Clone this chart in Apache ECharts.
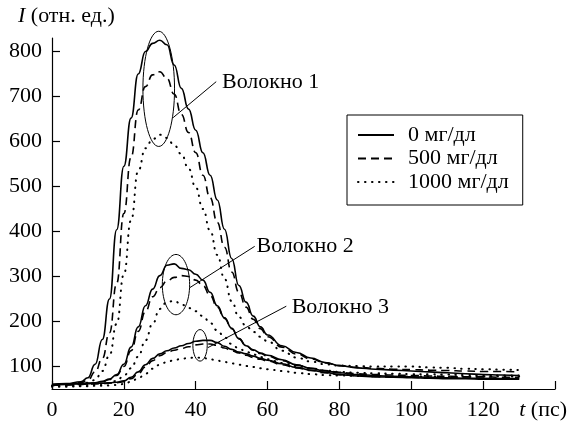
<!DOCTYPE html>
<html>
<head>
<meta charset="utf-8">
<script src="https://cdn.jsdelivr.net/npm/echarts@6/dist/echarts.min.js"></script>
<style>
  html, body { margin: 0; background: #fff; }
  #chart { width: 570px; height: 423px; }
</style>
</head>
<body>
<div id="chart"></div>
<script>
// time, ps
const times = [0, 4, 8, 10, 12, 14, 16, 18, 20, 22, 24, 26, 28, 30, 32, 34, 36, 38, 40, 42,
  44, 46, 48, 50, 52, 54, 56, 58, 60, 64, 68, 72, 76, 80, 85, 90, 95, 100, 105, 110, 115, 120, 125, 130];

// fibre 1
const fib1_0 = [60, 62, 66, 75, 105, 160, 250, 404, 545, 652, 750, 800, 818, 825, 815, 770, 718, 672, 625, 575,
  525, 470, 405, 340, 280, 243, 212, 188, 170, 146, 131, 119, 109, 102, 97, 94, 92, 90, 88, 86, 84, 82, 81, 80];
const fib1_500 = [60, 61, 64, 70, 88, 118, 175, 285, 440, 565, 670, 722, 748, 755, 740, 705, 660, 620, 575, 525,
  475, 420, 365, 310, 265, 232, 205, 184, 166, 143, 128, 117, 108, 102, 98, 96, 94, 93, 92, 91, 90, 89, 89, 88];
const fib1_1000 = [58, 60, 62, 64, 70, 90, 125, 195, 305, 425, 535, 585, 605, 615, 608, 592, 572, 540, 498, 450,
  402, 348, 295, 245, 210, 190, 177, 166, 156, 135, 120, 111, 105, 102, 101, 100, 100, 100, 98, 97, 95, 94, 93, 92];

// fibre 2
const fib2_0 = [58, 60, 62, 63, 64, 67, 72, 82, 105, 143, 188, 235, 272, 302, 325, 328, 318, 315, 305, 292,
  265, 235, 208, 185, 162, 146, 137, 130, 125, 115, 104, 96, 90, 86, 82, 80, 78, 77, 76, 75, 74, 74, 73, 73];
const fib2_500 = [58, 59, 61, 62, 63, 66, 71, 80, 100, 135, 178, 222, 255, 275, 290, 298, 302, 300, 292, 280,
  258, 232, 207, 184, 162, 146, 136, 129, 123, 113, 103, 96, 91, 87, 84, 82, 81, 80, 79, 78, 77, 77, 76, 76];
const fib2_1000 = [56, 57, 58, 59, 60, 61, 63, 68, 80, 96, 122, 158, 195, 228, 243, 246, 238, 230, 223, 212,
  197, 180, 165, 150, 140, 133, 127, 121, 116, 108, 101, 96, 91, 88, 86, 85, 84, 83, 83, 82, 81, 81, 80, 80];

// fibre 3
const fib3_0 = [60, 61, 62, 62, 63, 63, 64, 65, 68, 76, 88, 104, 118, 128, 135, 141, 146, 151, 156, 158,
  158, 153, 145, 138, 132, 128, 123, 118, 114, 106, 98, 92, 87, 82, 79, 77, 76, 75, 74, 73, 73, 72, 72, 72];
const fib3_500 = [58, 59, 60, 61, 61, 62, 63, 64, 66, 73, 84, 99, 113, 124, 131, 136, 140, 144, 148, 150,
  150, 147, 141, 135, 130, 125, 120, 116, 112, 104, 97, 91, 86, 82, 80, 78, 77, 76, 75, 75, 74, 74, 73, 73];
const fib3_1000 = [55, 55, 56, 56, 57, 57, 58, 59, 61, 66, 74, 84, 95, 104, 110, 114, 117, 119, 120, 119,
  116, 113, 110, 107, 104, 101, 99, 96, 94, 90, 86, 83, 81, 80, 79, 78, 78, 78, 78, 78, 78, 78, 78, 78];

const legendNames = ['0 мг/дл', '500 мг/дл', '1000 мг/дл'];
const yTicks = [100, 200, 300, 400, 500, 600, 700, 800];

// annotations, in data units (t, I)
const fibreNames = ['Волокно 1', 'Волокно 2', 'Волокно 3'];
const ellipseCenter = [[29.7, 717], [34.5, 282], [41.2, 147]];
const ellipseRadius = [[4.4, 128], [3.8, 67], [2.0, 35]];
const pointerFrom = [[33.7, 653], [38.3, 275], [43.4, 142]];
const pointerTo = [[45.7, 733], [56.4, 367], [65.2, 234]];
const labelAt = [[47.3, 731], [56.9, 367], [66.7, 231]];

const FONT = 'Liberation Serif';
const FS = 22;

const dashStyles = [
  { type: 'solid', width: 1.6 },
  { type: [8, 5], width: 1.6 },
  { type: [0.5, 6.5], width: 2, cap: 'round' }
];

function mkSeries(values, k) {
  return {
    type: 'line',
    name: legendNames[k],
    data: times.map((t, i) => [t, values[i]]),
    showSymbol: false,
    symbol: 'none',
    smooth: 0.5,
    smoothMonotone: 'x',
    lineStyle: Object.assign({ color: '#000' }, dashStyles[k]),
    itemStyle: { color: '#000' },
    silent: true
  };
}

const chart = echarts.init(document.getElementById('chart'));

chart.setOption({
  backgroundColor: '#fff',
  animation: false,
  title: {
    text: '{i|I} (отн. ед.)',
    left: 18,
    top: 5,
    padding: 0,
    textStyle: {
      fontFamily: FONT, fontSize: FS, fontWeight: 'normal', color: '#000',
      rich: { i: { fontFamily: FONT, fontSize: FS, fontStyle: 'italic', color: '#000' } }
    }
  },
  legend: {
    orient: 'vertical',
    left: 347,
    top: 115,
    padding: [9, 14, 12, 10],
    borderColor: '#000',
    borderWidth: 1,
    itemWidth: 36,
    itemHeight: 22,
    itemGap: 1.5,
    selectedMode: false,
    data: legendNames,
    itemStyle: { color: 'rgba(0,0,0,0)', borderWidth: 0, opacity: 0 },
    textStyle: { fontFamily: FONT, fontSize: FS, color: '#000', lineHeight: 22, padding: [0, 0, 0, 9] }
  },
  grid: { left: 52, right: 14, top: 38, bottom: 34 },
  xAxis: {
    type: 'value',
    min: 0,
    max: 140,
    interval: 20,
    axisLine: { lineStyle: { color: '#000', width: 1.2 } },
    axisTick: { inside: true, length: 8, lineStyle: { color: '#000', width: 1.2 } },
    splitLine: { show: false },
    axisLabel: {
      margin: 10,
      color: '#000',
      fontFamily: FONT,
      fontSize: FS,
      formatter: v => v === 140 ? '{i|t} {n|(пс)}' : String(v),
      rich: {
        i: { fontFamily: FONT, fontSize: FS, fontStyle: 'italic', color: '#000' },
        n: { fontFamily: FONT, fontSize: FS, color: '#000', padding: [0, 24, 0, 0] }
      }
    }
  },
  yAxis: {
    type: 'value',
    min: 50,
    max: 830,
    axisLine: { show: true, lineStyle: { color: '#000', width: 1.2 } },
    axisTick: { show: true, inside: true, length: 8, customValues: yTicks, lineStyle: { color: '#000', width: 1.2 } },
    splitLine: { show: false },
    axisLabel: { customValues: yTicks, margin: 10, color: '#000', fontFamily: FONT, fontSize: FS }
  },
  series: [
    mkSeries(fib1_0, 0), mkSeries(fib1_500, 1), mkSeries(fib1_1000, 2),
    mkSeries(fib2_0, 0), mkSeries(fib2_500, 1), mkSeries(fib2_1000, 2),
    mkSeries(fib3_0, 0), mkSeries(fib3_500, 1), mkSeries(fib3_1000, 2)
  ]
});

// ellipses, pointer lines and fibre labels placed through the axis scales
const px = p => chart.convertToPixel({ gridIndex: 0 }, p);
const graphics = [];
fibreNames.forEach((name, i) => {
  const c = px(ellipseCenter[i]);
  const e = px([ellipseCenter[i][0] + ellipseRadius[i][0], ellipseCenter[i][1] + ellipseRadius[i][1]]);
  graphics.push({
    type: 'ellipse',
    silent: true,
    shape: { cx: c[0], cy: c[1], rx: Math.abs(e[0] - c[0]), ry: Math.abs(e[1] - c[1]) },
    style: { fill: 'none', stroke: '#000', lineWidth: 1 }
  });
  const a = px(pointerFrom[i]);
  const b = px(pointerTo[i]);
  graphics.push({
    type: 'line',
    silent: true,
    shape: { x1: a[0], y1: a[1], x2: b[0], y2: b[1] },
    style: { stroke: '#000', lineWidth: 1 }
  });
  const l = px(labelAt[i]);
  graphics.push({
    type: 'text',
    silent: true,
    x: l[0],
    y: l[1],
    style: { text: name, fill: '#000', font: FS + 'px ' + FONT, verticalAlign: 'middle', align: 'left' }
  });
});
chart.setOption({ graphic: graphics });
</script>
</body>
</html>
